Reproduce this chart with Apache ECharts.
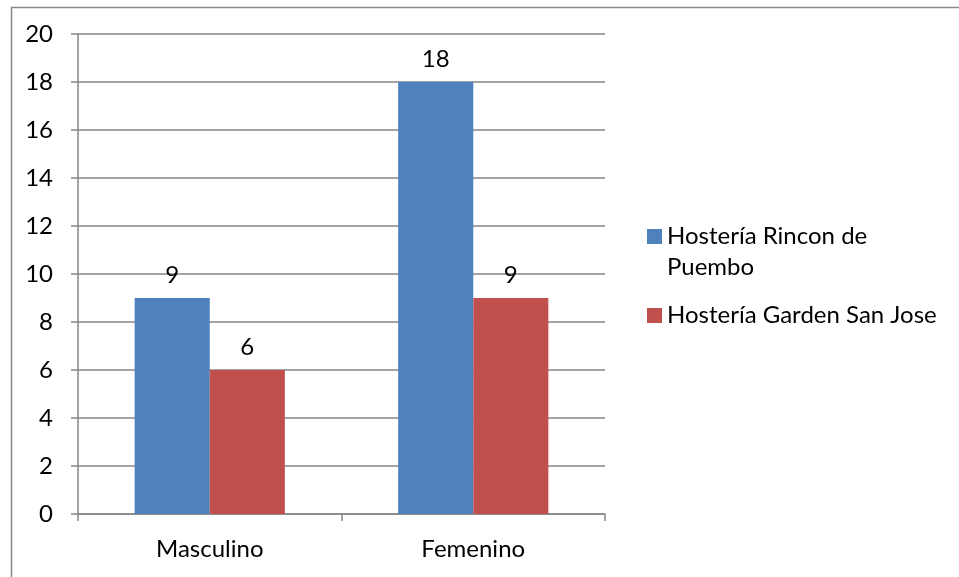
<!DOCTYPE html>
<html>
<head>
<meta charset="utf-8">
<script src="https://cdn.jsdelivr.net/npm/echarts@6/dist/echarts.min.js"></script>
<style>
  html, body { margin: 0; padding: 0; background: #fff; }
  #chart { width: 959px; height: 577px; }
</style>
</head>
<body>
<div id="chart"></div>
<script>
// Respondents by sex at each hostería
const categories = ['Masculino', 'Femenino'];
const seriesNames = ['Hostería Rincon de Puembo', 'Hostería Garden San Jose'];
const rinconValues = [9, 18];
const gardenValues = [6, 9];
const yTicks = { min: 0, max: 20, interval: 2 };

const FONT = 'Lato';
const FS = 24;
const textColor = '#000';
const lineColor = '#868686';

// Legend text: first entry wraps onto a second line, kept level with its swatch
const legendText = {
  'Hostería Rincon de Puembo': ' \nHostería Rincon de\nPuembo',
  'Hostería Garden San Jose': 'Hostería Garden San Jose'
};

const chart = echarts.init(document.getElementById('chart'), null, { renderer: 'canvas' });

const barLabel = {
  show: true,
  position: 'top',
  distance: 11,
  color: textColor,
  fontFamily: FONT,
  fontSize: FS
};

chart.setOption({
  backgroundColor: '#fff',
  animation: false,
  textStyle: { fontFamily: FONT, color: textColor },
  graphic: [{
    type: 'rect',
    left: 9, top: 5,
    shape: { x: 0, y: 0, width: 980, height: 600 },
    style: { fill: 'none', stroke: '#888', lineWidth: 1.5 },
    silent: true,
    z: -1
  }],
  grid: { left: 78, top: 34, right: 354, bottom: 63, containLabel: false },
  legend: {
    orient: 'vertical',
    left: 647,
    top: 190,
    padding: 0,
    itemGap: 17,
    itemWidth: 15,
    itemHeight: 15,
    icon: 'rect',
    selectedMode: false,
    textStyle: { fontFamily: FONT, fontSize: FS, color: textColor, lineHeight: 31 },
    formatter: name => legendText[name],
    data: seriesNames
  },
  xAxis: {
    type: 'category',
    data: categories,
    axisLine: { lineStyle: { color: lineColor, width: 1.5 } },
    axisTick: { show: true, length: 7, lineStyle: { color: lineColor, width: 1.5 } },
    axisLabel: { color: textColor, fontFamily: FONT, fontSize: FS, margin: 23 }
  },
  yAxis: {
    type: 'value',
    min: yTicks.min,
    max: yTicks.max,
    interval: yTicks.interval,
    axisLine: { show: true, lineStyle: { color: lineColor, width: 1.5 } },
    axisTick: { show: true, length: 7, lineStyle: { color: lineColor, width: 1.5 } },
    splitLine: { show: true, lineStyle: { color: lineColor, width: 1.5 } },
    axisLabel: { color: textColor, fontFamily: FONT, fontSize: FS, margin: 25 }
  },
  series: [
    {
      name: seriesNames[0],
      type: 'bar',
      data: rinconValues,
      barGap: '0%',
      barCategoryGap: '43%',
      itemStyle: { color: '#4F81BD' },
      label: barLabel
    },
    {
      name: seriesNames[1],
      type: 'bar',
      data: gardenValues,
      barGap: '0%',
      barCategoryGap: '43%',
      itemStyle: { color: '#C0504D' },
      label: barLabel
    }
  ]
});
</script>
</body>
</html>
